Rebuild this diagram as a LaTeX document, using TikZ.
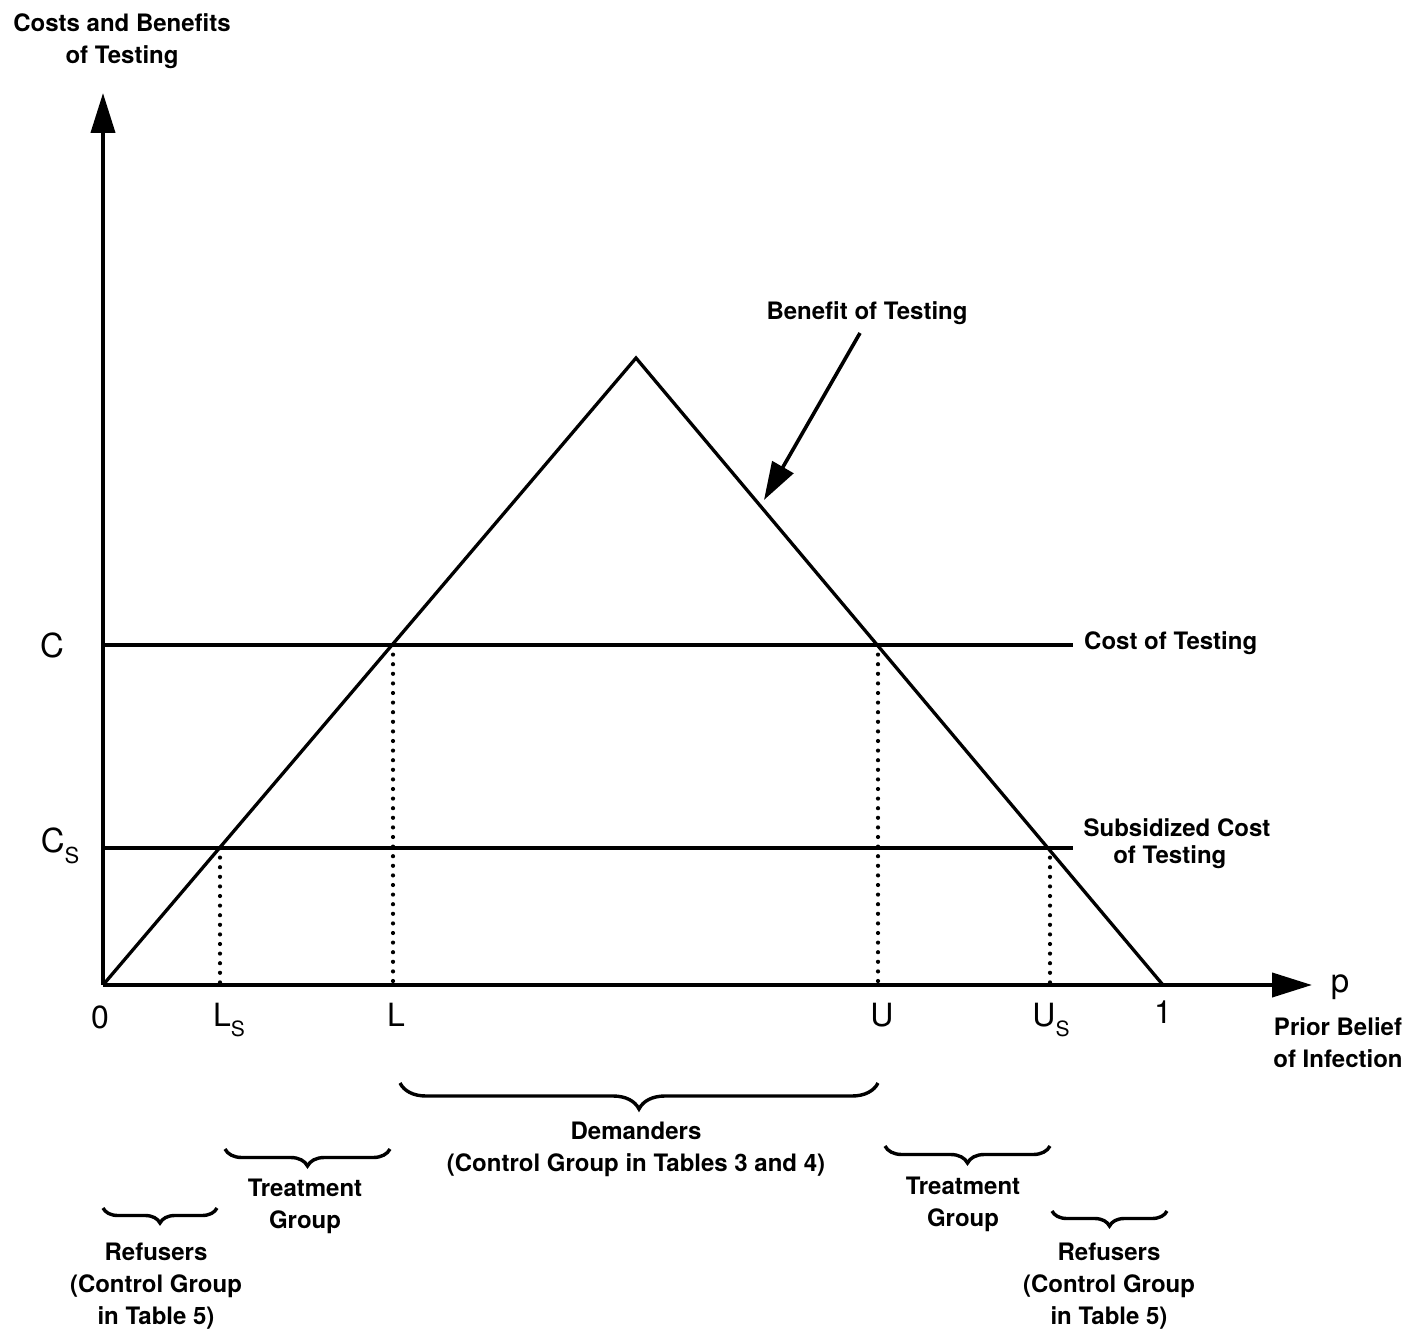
\documentclass[tikz,border=0pt]{standalone}
\usepackage{fontspec}
\setmainfont{TeX Gyre Heros}
\usetikzlibrary{arrows.meta,decorations.pathreplacing}
\newcommand{\subS}[1]{\raisebox{-0.32em}{\fontsize{#1}{#1}\selectfont S}}
\begin{document}
\begin{tikzpicture}[x=1pt,y=-1pt,
  every node/.style={font=\fontsize{24}{32}\selectfont\bfseries, inner sep=0pt, align=center},
  curveline/.style={line width=3.3pt},
  axisline/.style={line width=4pt, -{Triangle[length=40pt,width=24pt]}},
  pointer/.style={line width=3.6pt, -{Triangle[length=38pt,width=24pt]}},
  dotline/.style={line width=4.2pt, line cap=round, dash pattern=on 0pt off 9.6pt},
  bracedec/.style={decorate, decoration={brace, mirror, amplitude=#1}, line width=3.4pt},
  ticklab/.style={font=\fontsize{32}{32}\selectfont},
  clab/.style={font=\fontsize{33}{33}\selectfont}
]
\useasboundingbox (0,0) rectangle (1409,1337);

% axes
\coordinate (O) at (103,985);
\coordinate (Ytip) at (103,93);
\coordinate (Xtip) at (1312,985);
\draw[axisline] (O) -- (Ytip);
\draw[axisline] (O) -- (Xtip);

% benefit triangle
\coordinate (Peak) at (636,358);
\coordinate (One) at (1163,985);
\draw[curveline, line join=miter] (O) -- (Peak) -- (One);

% cost lines
\coordinate (Cy) at (103,645);
\coordinate (Cend) at (1073,645);
\coordinate (Csy) at (103,848);
\coordinate (Csend) at (1073,848);
\draw[curveline] (Cy) -- (Cend);
\draw[curveline] (Csy) -- (Csend);

% intersections and dotted drops
\coordinate (Ltop) at (393,645);   \coordinate (Lbot) at (393,985);
\coordinate (Utop) at (878,645);   \coordinate (Ubot) at (878,985);
\coordinate (LStop) at (220,848);  \coordinate (LSbot) at (220,985);
\coordinate (UStop) at (1050,848); \coordinate (USbot) at (1050,985);
\draw[dotline] (Ltop) -- (Lbot);
\draw[dotline] (Utop) -- (Ubot);
\draw[dotline] (LStop) -- (LSbot);
\draw[dotline] (UStop) -- (USbot);

% labels
\node (ylab) at (122,41) {Costs and Benefits\\of Testing};
\node[clab] (Clab) at (52,645) {C};
\node[clab] (Cslab) at (60,846) {C\subS{22}};
\node[ticklab] (zero) at (100,1017) {0};
\node[ticklab] (LSlab) at (229,1020) {L\subS{21}};
\node[ticklab] (Llab) at (396,1015) {L};
\node[ticklab] (Ulab) at (882,1015) {U};
\node[ticklab] (USlab) at (1051,1020) {U\subS{21}};
\node[ticklab] (onelab) at (1163,1012) {1};
\node[font=\fontsize{33}{33}\selectfont] (plab) at (1340,987) {p};
\node (prior) at (1338,1043) {Prior Belief\\of Infection};
\node[anchor=west] (costlab) at (1084,643) {Cost of Testing};
\node[font=\fontsize{24}{27}\selectfont\bfseries] (subslab) at (1177,844) {Subsidized Cost\\\hspace*{-0.6em}of Testing};

% benefit pointer
\node (benlab) at (867,313) {Benefit of Testing};
\coordinate (benstart) at (860,333);
\coordinate (bentip) at (764,500);
\draw[pointer] (benstart) -- (bentip);

% braces
\coordinate (dA) at (400,1083); \coordinate (dB) at (878,1083);
\draw[bracedec=26pt] (dA) -- (dB);
\node (dem) at (636,1149) {Demanders\\(Control Group in Tables 3 and 4)};

\coordinate (tlA) at (225,1149); \coordinate (tlB) at (390,1149);
\draw[bracedec=17pt] (tlA) -- (tlB);
\node (treatL) at (305,1206) {Treatment\\Group};

\coordinate (rlA) at (103,1208); \coordinate (rlB) at (217,1208);
\draw[bracedec=15pt] (rlA) -- (rlB);
\node (refL) at (156,1286) {Refusers\\(Control Group\\in Table 5)};

\coordinate (trA) at (885,1146); \coordinate (trB) at (1050,1146);
\draw[bracedec=17pt] (trA) -- (trB);
\node (treatR) at (963,1204) {Treatment\\Group};

\coordinate (rrA) at (1052,1211); \coordinate (rrB) at (1167,1211);
\draw[bracedec=15pt] (rrA) -- (rrB);
\node (refR) at (1109,1286) {Refusers\\(Control Group\\in Table 5)};
\end{tikzpicture}
\end{document}
